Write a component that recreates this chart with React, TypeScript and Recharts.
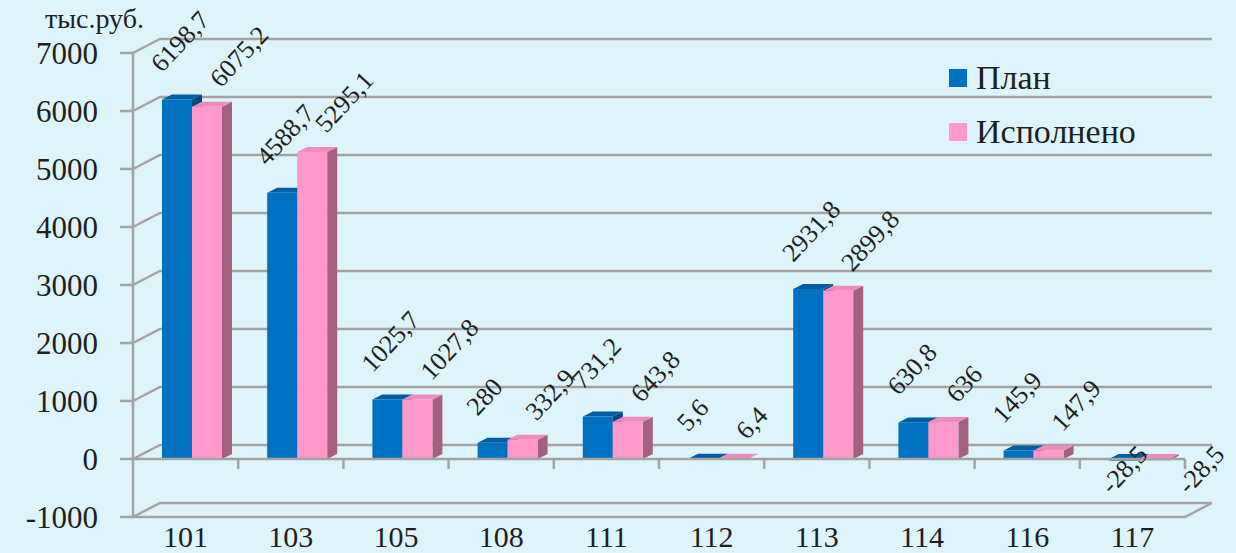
import React from 'react';
import {
    BarChart,
    Bar,
    XAxis,
    YAxis,
    CartesianGrid,
    Legend,
    LabelList,
    ReferenceLine
} from 'recharts';

// Codes of budget items and the two series (тыс.руб.)
const categories = ['101', '103', '105', '108', '111', '112', '113', '114', '116', '117'];
const planValues = [6198.7, 4588.7, 1025.7, 280, 731.2, 5.6, 2931.8, 630.8, 145.9, -28.5];
const doneValues = [6075.2, 5295.1, 1027.8, 332.9, 643.8, 6.4, 2899.8, 636, 147.9, -28.5];
const yTicks = [-1000, 0, 1000, 2000, 3000, 4000, 5000, 6000, 7000];
const seriesNames = ['План', 'Исполнено'];

const data = categories.map((code, i) => ({
    code,
    plan: planValues[i],
    done: doneValues[i],
}));

const FONT = 'Liberation Serif, DejaVu Serif, serif';
const GRID = '#a3a3a3';
const TEXT = '#1f1f1f';

// pseudo 3D offsets
const WALL_DX = 27;
const WALL_DY = -14;
const BAR_DX = 10;
const BAR_DY = -5;
const BAR_SHIFT = 6;

const colors = {
    plan: { front: '#0070c0', top: '#005ca3', side: '#00497f' },
    done: { front: '#ff99cc', top: '#ef8cbd', side: '#a6607f' },
};

const makeBar3D = (c: { front: string; top: string; side: string }) => (props: any) => {
    const { x, y, width, height } = props;
    if (x == null || y == null) return null;
    const left = x + BAR_SHIFT;
    const right = left + width;
    const y0 = Math.min(y, y + height);
    const y1 = Math.max(y, y + height);
    return (
        <g>
            <polygon
                points={`${right},${y0} ${right + BAR_DX},${y0 + BAR_DY} ${right + BAR_DX},${y1 + BAR_DY} ${right},${y1}`}
                fill={c.side}
            />
            <polygon
                points={`${left},${y0} ${left + BAR_DX},${y0 + BAR_DY} ${right + BAR_DX},${y0 + BAR_DY} ${right},${y0}`}
                fill={c.top}
            />
            <rect x={left} y={y0} width={width} height={Math.max(y1 - y0, 0.5)} fill={c.front} />
        </g>
    );
};

// labels sit above the bar, rotated; negative ones hang below zero
const makeLabel = (dxPos: number, dyPos: number, dxNeg: number) => (props: any) => {
    const box = props.viewBox && typeof props.viewBox.x === 'number' ? props.viewBox : props;
    const { x, y, width, height } = box;
    const value = Number(props.value);
    const cx = x + BAR_SHIFT + width / 2;
    const text = String(props.value).replace('.', ',');
    if (value < 0) {
        const bottom = Math.max(y, y + height);
        const lx = cx + dxNeg;
        const ly = bottom - 5;
        return (
            <text x={lx} y={ly} transform={`rotate(-47 ${lx} ${ly})`} textAnchor="end"
                fontFamily={FONT} fontSize={26} fill={TEXT}>
                {text}
            </text>
        );
    }
    const top = Math.min(y, y + height);
    const lx = cx + dxPos;
    const ly = top + dyPos;
    return (
        <text x={lx} y={ly} transform={`rotate(-47 ${lx} ${ly})`} textAnchor="start"
            fontFamily={FONT} fontSize={26} fill={TEXT}>
            {text}
        </text>
    );
};

const renderWallLine = (p: any) => {
    const { x1, x2, y1 } = p;
    return (
        <polyline
            key={p.key ?? p.index}
            points={`${x1},${y1} ${x1 + WALL_DX},${y1 + WALL_DY} ${x2 + WALL_DX},${y1 + WALL_DY}`}
            fill="none"
            stroke={GRID}
            strokeWidth={2.5}
        />
    );
};

const renderFloor = (p: any) => {
    const { x1, x2, y1 } = p;
    return (
        <polyline
            points={`${x1},${y1} ${x2},${y1} ${x2 + WALL_DX},${y1 + WALL_DY}`}
            fill="none"
            stroke={GRID}
            strokeWidth={2.5}
        />
    );
};

const renderZeroAxis = (p: any) => {
    const { x1, x2, y1 } = p;
    const step = (x2 - x1) / categories.length;
    return (
        <g>
            <line x1={x1} y1={y1} x2={x2} y2={y1} stroke={GRID} strokeWidth={2.5} />
            {categories.map((c, i) => (
                <line key={c} x1={x1 + step * (i + 1)} y1={y1} x2={x1 + step * (i + 1)} y2={y1 + 10}
                    stroke={GRID} strokeWidth={2.5} />
            ))}
        </g>
    );
};

const CategoryTick = ({ x, y, payload }: any) => (
    <text x={x} y={y + 30} textAnchor="middle" fontFamily={FONT} fontSize={30} fill={TEXT}>
        {payload.value}
    </text>
);

const LegendBox = () => (
    <div style={{ fontFamily: FONT, fontSize: 34, color: TEXT, lineHeight: '54px' }}>
        {seriesNames.map((name, i) => (
            <div key={name} style={{ display: 'flex', alignItems: 'center' }}>
                <span style={{
                    display: 'inline-block', width: 18, height: 18, marginRight: 9,
                    background: i === 0 ? colors.plan.front : colors.done.front
                }} />
                <span>{name}</span>
            </div>
        ))}
    </div>
);

export default function App() {
    return (
        <div style={{ position: 'relative', width: 1236, height: 553, background: '#ddf4fa', overflow: 'hidden' }}>
            <style>{'body{margin:0}'}</style>
            <div style={{
                position: 'absolute', left: 45, top: 3, fontFamily: FONT, fontSize: 28, color: TEXT, zIndex: 2
            }}>
                тыс.руб.
            </div>
            <BarChart
                width={1236}
                height={553}
                data={data}
                margin={{ top: 53, right: 51, bottom: 6, left: 0 }}
                barGap={0}
                barSize={30}
            >
                <CartesianGrid vertical={false} horizontal={renderWallLine} />
                <XAxis
                    dataKey="code"
                    height={30}
                    axisLine={false}
                    tickLine={false}
                    tickSize={0}
                    tickMargin={0}
                    tick={<CategoryTick />}
                    interval={0}
                />
                <YAxis
                    width={133}
                    domain={[-1000, 7000]}
                    ticks={yTicks}
                    interval={0}
                    axisLine={{ stroke: GRID, strokeWidth: 2.5 }}
                    tickLine={{ stroke: GRID, strokeWidth: 2.5 }}
                    tickSize={13}
                    tickMargin={22}
                    tick={{ fontFamily: FONT, fontSize: 31, fill: TEXT }}
                />
                <ReferenceLine y={-1000} shape={renderFloor} />
                <ReferenceLine y={0} shape={renderZeroAxis} />
                <Legend
                    verticalAlign="middle"
                    align="center"
                    layout="horizontal"
                    content={<LegendBox />}
                    wrapperStyle={{ top: 51, left: 949, right: 'auto', width: 260 }}
                />
                <Bar dataKey="plan" name={seriesNames[0]} shape={makeBar3D(colors.plan)} isAnimationActive={false}>
                    <LabelList dataKey="plan" content={makeLabel(-15, -26, 25)} />
                </Bar>
                <Bar dataKey="done" name={seriesNames[1]} shape={makeBar3D(colors.done)} isAnimationActive={false}>
                    <LabelList dataKey="done" content={makeLabel(14, -18, 72)} />
                </Bar>
            </BarChart>
        </div>
    );
}
